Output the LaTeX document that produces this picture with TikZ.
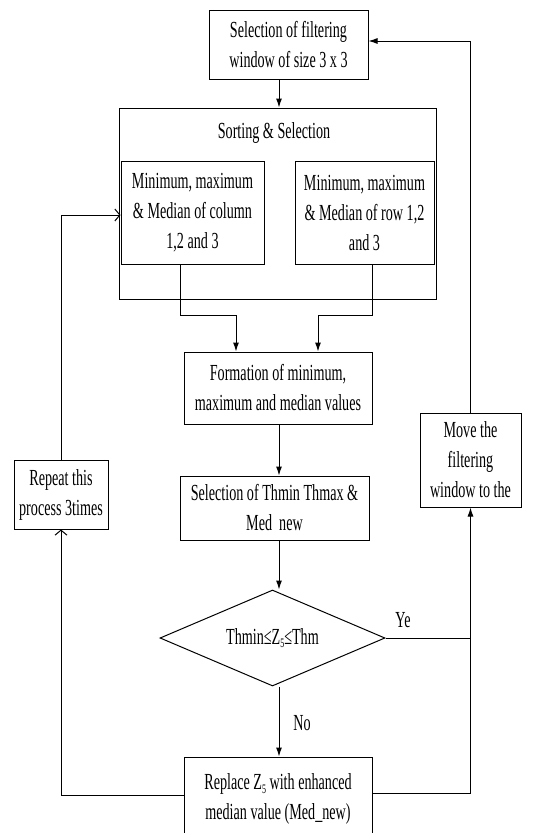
\documentclass[tikz,border=0pt]{standalone}
\usepackage{fontspec}
\setmainfont[FakeStretch=0.615]{Liberation Serif}
\usetikzlibrary{arrows.meta,shapes.geometric}
\begin{document}
\begin{tikzpicture}[x=1pt,y=-1pt,
  txt/.style={font=\fontsize{23}{30}\selectfont, align=center, inner sep=0pt},
  box/.style={txt, draw, line width=1pt},
  arr/.style={line width=1pt, -{Latex[length=9pt,width=6pt]}},
  oarr/.style={line width=1pt, -{Straight Barb[length=5pt,width=12pt]}},
  ln/.style={line width=1pt}]
\useasboundingbox (0,0) rectangle (547,833);
\clip (0,0) rectangle (547,833);
\fill[white] (0,0) rectangle (547,833);

\node[box, minimum width=159pt, minimum height=69pt] (top) at (288.5,44.5)
  {Selection of filtering\\window of size 3 x 3};
\node[box, minimum width=317pt, minimum height=191pt] (big) at (277.5,203.5) {};
\node[txt] (sort) at (274,133) {Sorting \& Selection};
\node[box, minimum width=143pt, minimum height=103pt] (linner) at (192.5,212.5)
  {Minimum, maximum\\\& Median of column\\1,2 and 3};
\node[box, minimum width=139pt, minimum height=103pt] (rinner) at (364.5,212.5)
  {Minimum, maximum\\\& Median of row 1,2\\and 3};
\node[box, minimum width=188pt, minimum height=72pt] (form) at (278,388)
  {Formation of minimum,\\maximum and median values};
\node[box, minimum width=189pt, minimum height=64pt] (thbox) at (274.5,508)
  {Selection of Thmin Thmax \&\\Med\ \ new};
\node[box, shape=diamond, shape aspect=2.34, minimum width=225pt, minimum height=96pt] (dia) at (272.5,638)
  {Thmin≤Z\raisebox{-0.35ex}{\fontsize{13}{13}\selectfont 5}≤Thm};
\node[box, minimum width=188pt, minimum height=84pt] (rep) at (278,799)
  {Replace Z\raisebox{-0.35ex}{\fontsize{13}{13}\selectfont 5} with enhanced\\median value (Med\_new)};
\node[box, minimum width=94pt, minimum height=69pt] (rpt) at (61,494.5)
  {Repeat this\\process 3times};
\node[box, minimum width=101pt, minimum height=94pt] (move) at (470.5,460)
  {Move the\\filtering\\window to the};
\node[txt] (ye) at (403,620) {Ye};
\node[txt] (no) at (302,723) {No};

\draw[arr] ([xshift=-9.5pt]top.south) -- ([xshift=-9.5pt]top.south |- big.north);
\draw[arr] ([xshift=-12.5pt]linner.south) -- ++(0,51) -| ([xshift=-42pt]form.north);
\draw[arr] ([xshift=7.5pt]rinner.south) -- ++(0,51) -| ([xshift=40pt]form.north);
\draw[arr] ([xshift=1pt]form.south) -- ([xshift=1pt]form.south |- thbox.north);
\draw[arr] ([xshift=1pt]form.south |- thbox.south) -- ([xshift=1pt]form.south |- dia.north);
\draw[arr] ([xshift=1pt]form.south |- dia.south) -- ([xshift=1pt]form.south |- rep.north);
\draw[ln] (dia.east) -- (dia.east -| move.south);
\draw[oarr] ([yshift=4pt]rep.west) -| (rpt.south);
\draw[oarr] (rpt.north) |- ([yshift=-2.5pt]linner.west);
\draw[arr] ([yshift=6pt]rep.east) -| (move.south);
\draw[arr] (move.north) |- ([yshift=3.5pt]top.east);
\end{tikzpicture}
\end{document}
